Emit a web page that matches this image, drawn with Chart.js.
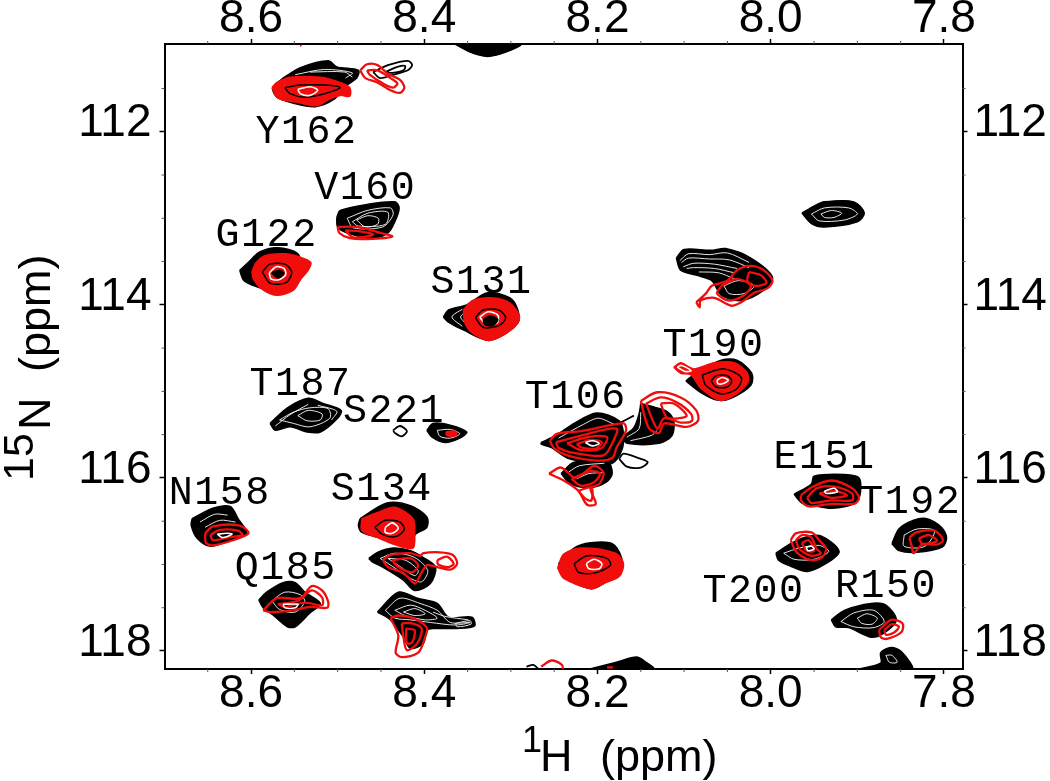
<!DOCTYPE html>
<html>
<head>
<meta charset="utf-8">
<style>
  html, body { margin: 0; padding: 0; background: #fff; }
  canvas { display: block; filter: blur(0.35px); }
</style>
<script src="https://cdn.jsdelivr.net/npm/chart.js@4"></script>
</head>
<body>
<canvas id="hsqc" width="1050" height="781"></canvas>
<script>
// axis ranges and ticks (ppm)
var xRange = [7.7786, 8.6999];
var yRange = [110.986, 118.208];
var xTicks = [8.6, 8.4, 8.2, 8.0, 7.8];
var yTicks = [112, 114, 116, 118];
var xMinorTicks = [8.65, 8.55, 8.5, 8.45, 8.35, 8.3, 8.25, 8.15, 8.1, 8.05, 7.95, 7.9, 7.85];
var yMinorTicks = [111.5, 112.5, 113, 113.5, 114.5, 115, 115.5, 116.5, 117, 117.5];

// residue labels
var labelNames = ['Y162', 'V160', 'G122', 'S131', 'T187', 'S221', 'N158', 'S134', 'Q185', 'T106', 'T190', 'E151', 'T192', 'T200', 'R150'];
var labelX = [8.536, 8.468, 8.582, 8.334, 8.543, 8.435, 8.636, 8.449, 8.560, 8.225, 8.066, 7.938, 7.839, 8.020, 7.867];
var labelY = [112.13, 112.78, 113.32, 113.86, 115.04, 115.35, 116.30, 116.25, 117.17, 115.19, 114.59, 115.89, 116.41, 117.43, 117.38];

// outer contour of the black spectrum, peak by peak
var blackFilled = [
  [[8.563,111.38],[8.543,111.26],[8.511,111.18],[8.501,111.25],[8.476,111.29],[8.478,111.38],[8.489,111.46],[8.505,111.63],[8.526,111.71],[8.551,111.67],[8.570,111.60],[8.575,111.49]],
  [[8.364,110.99],[8.347,111.08],[8.327,111.13],[8.306,111.08],[8.289,110.99]],
  [[8.501,112.99],[8.497,112.91],[8.466,112.84],[8.434,112.81],[8.429,112.88],[8.434,113.04],[8.442,113.17],[8.459,113.23],[8.489,113.17],[8.500,113.10]],
  [[8.613,113.60],[8.603,113.51],[8.590,113.39],[8.569,113.34],[8.546,113.41],[8.543,113.60],[8.551,113.77],[8.578,113.83],[8.599,113.77],[8.609,113.71]],
  [[8.378,114.14],[8.372,114.06],[8.351,114.00],[8.327,113.86],[8.301,113.92],[8.292,114.06],[8.292,114.21],[8.324,114.41],[8.355,114.29],[8.372,114.20]],
  [[8.578,115.37],[8.558,115.19],[8.534,115.08],[8.517,115.14],[8.496,115.22],[8.500,115.31],[8.520,115.47],[8.535,115.47],[8.555,115.41],[8.572,115.45]],
  [[8.397,115.45],[8.390,115.37],[8.370,115.39],[8.351,115.47],[8.359,115.54],[8.376,115.59],[8.391,115.53]],
  [[8.668,116.47],[8.644,116.35],[8.624,116.33],[8.615,116.47],[8.605,116.64],[8.624,116.72],[8.647,116.79],[8.662,116.70],[8.669,116.55]],
  [[8.474,116.47],[8.443,116.29],[8.416,116.32],[8.397,116.45],[8.397,116.57],[8.411,116.66],[8.413,116.80],[8.448,116.70],[8.472,116.63],[8.476,116.55]],
  [[8.464,116.93],[8.454,116.86],[8.436,116.81],[8.416,116.84],[8.401,116.92],[8.387,117.03],[8.393,117.22],[8.411,117.30],[8.424,117.18],[8.448,117.03],[8.460,116.97]],
  [[8.454,117.55],[8.430,117.32],[8.408,117.39],[8.385,117.45],[8.372,117.61],[8.345,117.61],[8.342,117.71],[8.362,117.74],[8.390,117.74],[8.397,117.76],[8.401,117.91],[8.416,117.97],[8.424,117.84],[8.439,117.64]],
  [[8.591,117.41],[8.582,117.32],[8.563,117.21],[8.549,117.21],[8.538,117.32],[8.520,117.45],[8.532,117.56],[8.549,117.72],[8.558,117.72],[8.575,117.58],[8.586,117.50]],
  [[8.109,113.46],[8.100,113.36],[8.069,113.37],[8.052,113.35],[8.023,113.46],[7.998,113.68],[8.008,113.83],[8.034,113.95],[8.057,113.89],[8.068,113.72],[8.085,113.66],[8.104,113.60]],
  [[7.964,112.94],[7.950,112.86],[7.938,112.81],[7.904,112.81],[7.892,112.94],[7.900,113.04],[7.938,113.10],[7.953,113.06]],
  [[8.098,114.88],[8.085,114.78],[8.057,114.64],[8.039,114.64],[8.022,114.79],[8.023,114.93],[8.046,115.08],[8.062,115.10],[8.081,115.01]],
  [[8.265,115.59],[8.248,115.51],[8.227,115.37],[8.201,115.25],[8.175,115.34],[8.170,115.49],[8.172,115.68],[8.183,115.83],[8.204,115.83],[8.235,115.77],[8.253,115.65],[8.265,115.61]],
  [[8.150,115.14],[8.135,115.18],[8.120,115.23],[8.112,115.34],[8.114,115.51],[8.129,115.60],[8.166,115.60],[8.170,115.53],[8.158,115.42],[8.152,115.26]],
  [[8.242,115.95],[8.227,115.82],[8.189,115.80],[8.183,115.95],[8.190,116.05],[8.207,116.11],[8.231,116.07]],
  [[7.973,116.19],[7.953,116.07],[7.950,115.98],[7.915,115.96],[7.898,116.00],[7.897,116.20],[7.904,116.30],[7.930,116.35],[7.950,116.32],[7.964,116.29]],
  [[7.860,116.76],[7.852,116.59],[7.835,116.49],[7.821,116.47],[7.803,116.57],[7.797,116.69],[7.802,116.80],[7.832,116.86],[7.852,116.84]],
  [[7.994,116.87],[7.977,116.76],[7.962,116.69],[7.942,116.67],[7.921,116.85],[7.938,117.00],[7.958,117.08],[7.977,117.02],[7.991,116.95]],
  [[8.245,116.99],[8.227,116.81],[8.208,116.75],[8.183,116.76],[8.172,116.93],[8.173,117.07],[8.193,117.22],[8.208,117.28],[8.235,117.16]],
  [[7.930,117.64],[7.915,117.53],[7.884,117.45],[7.867,117.47],[7.855,117.64],[7.869,117.79],[7.884,117.84],[7.910,117.73],[7.925,117.72]],
  [[7.900,118.21],[7.873,118.14],[7.873,118.02],[7.861,117.96],[7.849,118.01],[7.837,118.21]],
  [[8.210,118.21],[8.178,118.13],[8.155,118.07],[8.144,118.13],[8.135,118.21]]
];

// single black contour lines that stand free of the filled peaks
var blackLines = [
  [[8.459,111.31],[8.442,111.23],[8.419,111.18],[8.414,111.23],[8.419,111.29],[8.436,111.34],[8.451,111.38],[8.459,111.31]],
  [[8.445,111.31],[8.431,111.25],[8.422,111.24],[8.424,111.29],[8.437,111.32],[8.445,111.31]],
  [[8.436,115.45],[8.428,115.40],[8.420,115.46],[8.426,115.52],[8.434,115.48],[8.436,115.45]],
  [[8.175,115.37],[8.158,115.28]],
  [[8.175,115.78],[8.170,115.72],[8.150,115.78],[8.142,115.82],[8.150,115.88],[8.166,115.87],[8.175,115.78]],
  [[8.282,118.18],[8.274,118.16],[8.268,118.21]]
];

// gaps between neighbouring black contours
var whiteGaps = [
  [[8.549,111.34],[8.515,111.28],[8.483,111.32],[8.491,111.38]],
  [[8.532,111.31],[8.492,111.31],[8.483,111.37]],
  [[8.489,113.00],[8.466,112.91],[8.439,112.88],[8.436,112.96],[8.448,113.10],[8.482,113.11],[8.489,113.00]],
  [[8.483,113.04],[8.465,112.94],[8.442,112.93],[8.445,113.07],[8.476,113.09],[8.483,113.04]],
  [[8.478,113.02],[8.465,112.97],[8.453,113.00],[8.454,113.07],[8.468,113.10],[8.478,113.02]],
  [[8.356,114.05],[8.368,114.14],[8.356,114.25]],
  [[8.347,114.05],[8.358,114.14],[8.347,114.26]],
  [[8.567,115.33],[8.551,115.24],[8.532,115.19],[8.511,115.20],[8.509,115.31],[8.532,115.41],[8.551,115.37],[8.567,115.33]],
  [[8.546,115.28],[8.534,115.22],[8.518,115.26],[8.520,115.33],[8.535,115.34],[8.546,115.28]],
  [[8.572,115.40],[8.555,115.27],[8.534,115.15]],
  [[8.523,115.16],[8.501,115.23],[8.507,115.33]],
  [[8.385,115.45],[8.370,115.44],[8.359,115.49],[8.370,115.54],[8.382,115.52],[8.385,115.45]],
  [[8.659,116.51],[8.642,116.42],[8.627,116.43]],
  [[8.653,116.57],[8.636,116.49],[8.618,116.51]],
  [[8.451,116.93],[8.434,116.87],[8.411,116.92],[8.396,117.07],[8.403,117.20],[8.416,117.16],[8.437,117.02],[8.451,116.93]],
  [[8.442,116.93],[8.422,116.95],[8.407,117.07],[8.411,117.13],[8.430,117.01],[8.442,116.93]],
  [[8.445,117.53],[8.428,117.39],[8.405,117.45],[8.385,117.53],[8.370,117.67],[8.347,117.67],[8.364,117.70],[8.393,117.67],[8.416,117.64],[8.434,117.62],[8.445,117.53]],
  [[8.434,117.53],[8.416,117.47],[8.399,117.53],[8.385,117.62],[8.399,117.64],[8.422,117.59],[8.434,117.53]],
  [[8.424,117.55],[8.411,117.51],[8.399,117.57],[8.411,117.59],[8.424,117.55]],
  [[8.364,117.68],[8.347,117.65],[8.346,117.69],[8.362,117.72],[8.364,117.68]],
  [[8.390,117.55],[8.376,117.60],[8.349,117.64]],
  [[8.576,117.42],[8.561,117.32],[8.543,117.35],[8.538,117.43],[8.549,117.55],[8.567,117.52],[8.576,117.42]],
  [[8.105,113.49],[8.095,113.41],[8.071,113.42],[8.050,113.40],[8.025,113.51]],
  [[8.103,113.51],[8.095,113.46],[8.071,113.47],[8.048,113.48],[8.025,113.57]],
  [[8.101,113.56],[8.089,113.52],[8.065,113.53],[8.039,113.58]],
  [[8.097,113.58],[8.089,113.57],[8.065,113.58],[8.042,113.63]],
  [[8.083,113.62],[8.060,113.63],[8.042,113.70]],
  [[8.054,113.78],[8.037,113.72],[8.019,113.78],[8.031,113.87],[8.048,113.87],[8.054,113.78]],
  [[7.953,112.95],[7.938,112.88],[7.910,112.88],[7.900,112.95],[7.915,113.02],[7.944,113.03],[7.953,112.95]],
  [[7.942,112.95],[7.930,112.91],[7.918,112.94],[7.927,112.99],[7.938,112.99],[7.942,112.95]],
  [[8.245,115.54],[8.216,115.38],[8.199,115.31],[8.181,115.38]],
  [[8.166,115.53],[8.152,115.43],[8.150,115.24]],
  [[8.162,115.57],[8.138,115.51],[8.131,115.45]],
  [[8.233,115.93],[8.221,115.86],[8.192,115.83]],
  [[8.224,116.01],[8.210,115.95],[8.193,115.94]],
  [[7.846,116.66],[7.831,116.59],[7.811,116.61],[7.822,116.79],[7.846,116.79],[7.846,116.66]],
  [[7.985,116.87],[7.967,116.81],[7.944,116.78],[7.933,116.85],[7.950,116.94],[7.973,116.94],[7.985,116.87]],
  [[7.919,117.66],[7.904,117.56],[7.881,117.53],[7.869,117.66],[7.881,117.73],[7.904,117.72],[7.919,117.66]],
  [[7.900,117.62],[7.889,117.57],[7.877,117.62],[7.883,117.69],[7.895,117.68],[7.900,117.62]],
  [[7.867,118.05],[7.860,118.05],[7.854,118.13],[7.863,118.13],[7.867,118.05]]
];

// red spectrum: peaks whose contours run together
var redFilled = [
  [[8.576,111.49],[8.570,111.43],[8.555,111.37],[8.520,111.37],[8.497,111.43],[8.486,111.49],[8.486,111.59],[8.497,111.58],[8.511,111.63],[8.524,111.70],[8.547,111.66],[8.569,111.61]],
  [[8.599,113.62],[8.594,113.51],[8.583,113.43],[8.561,113.41],[8.543,113.45],[8.531,113.51],[8.534,113.60],[8.543,113.71],[8.551,113.83],[8.570,113.89],[8.587,113.82],[8.597,113.71]],
  [[8.355,114.06],[8.344,113.95],[8.320,113.92],[8.301,113.98],[8.290,114.14],[8.297,114.27],[8.324,114.41],[8.344,114.33],[8.353,114.21]],
  [[8.375,115.47],[8.364,115.46],[8.363,115.51],[8.374,115.51]],
  [[8.472,116.47],[8.454,116.40],[8.434,116.34],[8.413,116.47],[8.411,116.64],[8.413,116.81],[8.431,116.78],[8.454,116.69],[8.472,116.61]],
  [[8.112,114.72],[8.104,114.67],[8.089,114.74],[8.065,114.67],[8.042,114.67],[8.027,114.79],[8.027,114.91],[8.046,115.07],[8.060,115.10],[8.081,114.96],[8.092,114.81],[8.104,114.79]],
  [[8.246,117.04],[8.239,116.88],[8.219,116.81],[8.179,116.87],[8.170,116.99],[8.175,117.14],[8.193,117.22],[8.207,117.28],[8.239,117.16]]
];

// red spectrum: separate contour lines
var redLines = [
  [[8.474,111.29],[8.466,111.22],[8.454,111.23],[8.442,111.33],[8.428,111.40],[8.423,111.49],[8.428,111.55],[8.439,111.52],[8.454,111.43],[8.468,111.38],[8.474,111.29]],
  [[8.466,111.29],[8.454,111.29],[8.439,111.38],[8.431,111.44],[8.436,111.49],[8.448,111.44],[8.463,111.34],[8.466,111.29]],
  [[8.500,113.10],[8.478,113.10],[8.454,113.16],[8.437,113.21],[8.466,113.24],[8.486,113.23],[8.498,113.17],[8.500,113.10]],
  [[8.491,113.14],[8.474,113.15],[8.459,113.19],[8.482,113.22],[8.491,113.14]],
  [[8.653,116.64],[8.644,116.56],[8.613,116.55],[8.603,116.64],[8.621,116.72],[8.644,116.78],[8.652,116.75],[8.653,116.64]],
  [[8.647,116.66],[8.636,116.60],[8.615,116.61],[8.610,116.66],[8.628,116.69],[8.644,116.72],[8.647,116.66]],
  [[8.448,116.95],[8.439,116.89],[8.416,116.87],[8.405,116.90],[8.401,116.87],[8.382,116.86],[8.367,116.89],[8.362,116.99],[8.370,117.06],[8.385,117.03],[8.397,117.01],[8.405,117.13],[8.411,117.22],[8.424,117.10],[8.442,117.03],[8.448,116.95]],
  [[8.437,116.95],[8.416,116.93],[8.407,117.01],[8.414,117.09],[8.430,117.03],[8.437,116.95]],
  [[8.385,116.95],[8.374,116.91],[8.366,116.99],[8.372,117.03],[8.384,117.00],[8.385,116.95]],
  [[8.439,117.62],[8.431,117.59],[8.413,117.62],[8.397,117.73],[8.399,117.84],[8.407,118.02],[8.426,118.07],[8.433,118.02],[8.430,117.82],[8.439,117.62]],
  [[8.426,117.68],[8.414,117.68],[8.403,117.74],[8.408,117.91],[8.420,117.99],[8.424,117.84],[8.426,117.68]],
  [[8.421,117.74],[8.411,117.76],[8.414,117.90],[8.420,117.91],[8.421,117.74]],
  [[8.586,117.53],[8.570,117.39],[8.543,117.39],[8.530,117.25],[8.518,117.30],[8.511,117.43],[8.512,117.50],[8.532,117.49],[8.551,117.53],[8.578,117.55],[8.586,117.53]],
  [[8.569,117.46],[8.546,117.42],[8.530,117.30],[8.518,117.38],[8.518,117.47],[8.538,117.44],[8.561,117.49],[8.569,117.46]],
  [[8.086,113.97],[8.075,113.87],[8.068,113.78],[8.050,113.72],[8.039,113.60],[8.023,113.55],[8.008,113.60],[7.998,113.72],[8.004,113.81],[8.019,113.86],[8.034,113.97],[8.046,114.01],[8.065,113.92],[8.081,113.95],[8.082,114.03],[8.086,113.97]],
  [[8.057,113.78],[8.039,113.70],[8.023,113.78],[8.031,113.89],[8.048,113.95],[8.062,113.87],[8.057,113.78]],
  [[8.025,113.62],[8.011,113.66],[8.005,113.75],[8.019,113.78],[8.027,113.72],[8.025,113.62]],
  [[8.255,115.57],[8.247,115.49],[8.219,115.46],[8.170,115.37],[8.167,115.45],[8.178,115.65],[8.183,115.77],[8.202,115.80],[8.235,115.74],[8.250,115.66],[8.255,115.57]],
  [[8.248,115.59],[8.219,115.51],[8.178,115.43],[8.183,115.60],[8.193,115.74],[8.227,115.71],[8.245,115.65],[8.248,115.59]],
  [[8.235,115.60],[8.212,115.53],[8.189,115.53],[8.196,115.66],[8.219,115.68],[8.235,115.60]],
  [[8.224,115.61],[8.208,115.56],[8.195,115.59],[8.202,115.66],[8.218,115.65],[8.224,115.61]],
  [[8.150,115.11],[8.131,115.01],[8.104,115.07],[8.086,115.22],[8.084,115.34],[8.097,115.41],[8.123,115.37],[8.129,115.48],[8.141,115.42],[8.150,115.11]],
  [[8.144,115.14],[8.127,115.07],[8.108,115.13],[8.092,115.26],[8.091,115.34],[8.104,115.36],[8.123,115.31],[8.131,115.43],[8.144,115.14]],
  [[8.127,115.14],[8.112,115.14],[8.097,115.28],[8.106,115.31],[8.120,115.30],[8.127,115.14]],
  [[8.256,115.95],[8.242,115.88],[8.225,116.00],[8.204,115.86],[8.193,115.94],[8.198,116.07],[8.208,116.12],[8.202,116.30],[8.212,116.31],[8.222,116.15],[8.239,116.03],[8.256,115.95]],
  [[8.230,116.01],[8.207,115.92],[8.197,115.95],[8.204,116.05],[8.219,116.09],[8.230,116.01]],
  [[8.222,116.15],[8.207,116.11],[8.207,116.26],[8.214,116.24],[8.222,116.15]],
  [[7.965,116.20],[7.953,116.11],[7.930,116.03],[7.906,116.12],[7.898,116.23],[7.904,116.30],[7.930,116.30],[7.956,116.33],[7.965,116.26],[7.965,116.20]],
  [[7.958,116.23],[7.947,116.12],[7.927,116.10],[7.906,116.18],[7.906,116.26],[7.930,116.26],[7.953,116.29],[7.958,116.23]],
  [[7.944,116.18],[7.927,116.15],[7.912,116.20],[7.930,116.23],[7.944,116.18]],
  [[7.840,116.69],[7.832,116.63],[7.811,116.61],[7.801,116.72],[7.808,116.77],[7.825,116.77],[7.835,116.87],[7.837,116.80],[7.840,116.69]],
  [[7.829,116.70],[7.817,116.66],[7.808,116.73],[7.825,116.76],[7.829,116.70]],
  [[7.977,116.72],[7.971,116.64],[7.953,116.63],[7.944,116.72],[7.936,116.82],[7.941,116.92],[7.953,116.95],[7.970,116.86],[7.977,116.72]],
  [[7.971,116.72],[7.964,116.66],[7.953,116.69],[7.947,116.82],[7.942,116.87],[7.953,116.90],[7.967,116.82],[7.971,116.72]],
  [[7.964,116.75],[7.956,116.72],[7.950,116.84],[7.959,116.84],[7.964,116.75]],
  [[7.875,117.76],[7.861,117.64],[7.848,117.68],[7.849,117.78],[7.866,117.86],[7.873,117.84],[7.875,117.76]],
  [[7.869,117.76],[7.860,117.69],[7.852,117.72],[7.858,117.79],[7.867,117.81],[7.869,117.76]],
  [[8.265,118.18],[8.253,118.11],[8.241,118.16],[8.240,118.21]],
  [[8.189,118.19],[8.182,118.19]],
  [[8.543,111.00],[8.542,111.01]]
];

// black contours that show through the red ones
var coreLines = [
  [[8.561,111.49],[8.543,111.46],[8.515,111.46],[8.497,111.49],[8.515,111.56],[8.538,111.60],[8.555,111.56],[8.561,111.49]],
  [[8.587,113.62],[8.578,113.53],[8.561,113.53],[8.553,113.62],[8.559,113.74],[8.578,113.75],[8.587,113.62]],
  [[8.341,114.15],[8.332,114.06],[8.314,114.06],[8.306,114.15],[8.314,114.24],[8.332,114.26],[8.341,114.15]],
  [[8.457,116.57],[8.445,116.49],[8.428,116.51],[8.423,116.60],[8.434,116.68],[8.449,116.65],[8.457,116.57]],
  [[8.079,114.81],[8.054,114.74],[8.034,114.84],[8.039,114.97],[8.057,115.03],[8.075,114.93],[8.079,114.81]],
  [[8.069,114.88],[8.063,114.82],[8.050,114.82],[8.045,114.88],[8.050,114.95],[8.063,114.95],[8.069,114.88]],
  [[8.227,116.99],[8.212,116.90],[8.189,116.93],[8.185,117.01],[8.204,117.10],[8.222,117.09],[8.227,116.99]]
];

// the innermost white centres
var coreWhite = [
  [[8.546,111.51],[8.532,111.48],[8.523,111.52],[8.532,111.58],[8.543,111.56],[8.546,111.51]],
  [[8.579,113.63],[8.571,113.56],[8.562,113.58],[8.560,113.65],[8.568,113.71],[8.577,113.70],[8.579,113.63]],
  [[8.336,114.14],[8.326,114.08],[8.315,114.12],[8.316,114.21],[8.330,114.21],[8.336,114.14]],
  [[8.639,116.65],[8.628,116.64],[8.622,116.65],[8.633,116.69],[8.639,116.65]],
  [[8.445,116.57],[8.437,116.52],[8.430,116.58],[8.437,116.64],[8.445,116.63],[8.445,116.57]],
  [[8.563,117.46],[8.546,117.46],[8.549,117.50],[8.561,117.50],[8.563,117.46]],
  [[8.108,114.72],[8.103,114.70],[8.092,114.76],[8.099,114.77],[8.108,114.72]],
  [[8.062,114.87],[8.056,114.84],[8.049,114.87],[8.055,114.91],[8.061,114.91],[8.062,114.87]],
  [[8.214,115.59],[8.206,115.57],[8.198,115.60],[8.206,115.63],[8.214,115.59]],
  [[7.938,116.15],[7.927,116.12],[7.923,116.16],[7.936,116.18],[7.938,116.15]],
  [[7.959,116.80],[7.953,116.79],[7.950,116.82],[7.957,116.84],[7.959,116.80]],
  [[8.213,116.99],[8.204,116.94],[8.195,116.99],[8.198,117.05],[8.210,117.05],[8.213,116.99]]
];

// solid black spots in the middle of a few peaks
var coreBlack = [
  [[8.576,113.63],[8.567,113.60],[8.562,113.64],[8.569,113.69]],
  [[8.332,114.17],[8.324,114.13],[8.315,114.17],[8.321,114.24],[8.330,114.23]]
];

var red = '#f20d0d';

function lineSet(rings, color, width) {
  return rings.map(function(ring) {
    return { data: ring, showLine: true, pointRadius: 0, borderColor: color, borderWidth: width, tension: 0.3, fill: false };
  });
}

function fillSet(rings, color) {
  return rings.map(function(ring) {
    return { data: ring.concat([ring[0]]), showLine: true, pointRadius: 0, borderColor: color, borderWidth: 1.5, backgroundColor: color, tension: 0.3, fill: 'shape' };
  });
}

// first dataset ends up on top, so the list runs from top layer to bottom
var datasets = [{ data: labelX.map(function(x, i) { return [x, labelY[i]]; }), pointRadius: 0, showLine: false }]
  .concat(fillSet(coreBlack, '#000'))
  .concat(lineSet(coreWhite, '#fff', 1.6))
  .concat(lineSet(coreLines, '#000', 1.5))
  .concat(lineSet(redLines, red, 2.3))
  .concat(fillSet(redFilled, red))
  .concat(lineSet(whiteGaps, '#fff', 0.9))
  .concat(lineSet(blackLines, '#000', 1.8))
  .concat(fillSet(blackFilled, '#000'));

var residueLabels = {
  id: 'residueLabels',
  afterDraw: function(chart) {
    var ctx = chart.ctx;
    ctx.save();
    ctx.fillStyle = '#000';
    ctx.font = '40px "Liberation Mono"';
    ctx.letterSpacing = '1.5px';
    ctx.textAlign = 'center';
    ctx.textBaseline = 'alphabetic';
    labelNames.forEach(function(name, i) {
      ctx.fillText(name, chart.scales.x.getPixelForValue(labelX[i]), chart.scales.y.getPixelForValue(labelY[i]));
    });
    ctx.restore();
  }
};

var minorTicks = {
  id: 'minorTicks',
  afterDraw: function(chart) {
    var ctx = chart.ctx, a = chart.chartArea;
    ctx.save();
    ctx.strokeStyle = '#555';
    ctx.lineWidth = 1;
    ctx.beginPath();
    xMinorTicks.forEach(function(v) {
      var px = chart.scales.x.getPixelForValue(v);
      ctx.moveTo(px, a.top); ctx.lineTo(px, a.top - 3);
      ctx.moveTo(px, a.bottom); ctx.lineTo(px, a.bottom + 3);
    });
    yMinorTicks.forEach(function(v) {
      var py = chart.scales.y.getPixelForValue(v);
      ctx.moveTo(a.left, py); ctx.lineTo(a.left - 3, py);
      ctx.moveTo(a.right, py); ctx.lineTo(a.right + 3, py);
    });
    ctx.stroke();
    ctx.restore();
  }
};

// the isotope numbers sit above the letters, which the axis title option can't do
var axisTitles = {
  id: 'axisTitles',
  afterDraw: function(chart) {
    var ctx = chart.ctx;
    ctx.save();
    ctx.fillStyle = '#000';
    ctx.textBaseline = 'alphabetic';
    ctx.font = '36px "Liberation Sans"';
    ctx.fillText('1', 522, 752);
    ctx.font = '45px "Liberation Sans"';
    ctx.fillText('H', 540, 771);
    ctx.fillText('(ppm)', 600, 771);
    ctx.translate(50, 0);
    ctx.rotate(-Math.PI / 2);
    ctx.fillText('N', -430, 0);
    ctx.fillText('(ppm)', -372, 0);
    ctx.font = '43px "Liberation Sans"';
    ctx.fillText('15', -481, -17);
    ctx.restore();
  }
};

function xAxis(position, size, pad) {
  return {
    type: 'linear', position: position, reverse: true, min: xRange[0], max: xRange[1],
    afterBuildTicks: function(s) { s.ticks = xTicks.map(function(v) { return { value: v }; }); },
    afterFit: function(s) { s.height = size; },
    border: { color: '#000', width: 2 },
    grid: { drawOnChartArea: false, color: '#000', tickLength: 5, tickWidth: 1.5 },
    ticks: {
      color: '#000', padding: pad, maxRotation: 0, autoSkip: false,
      font: { family: 'Liberation Sans', size: 46 },
      callback: function(v) { return v.toFixed(1); }
    }
  };
}

function yAxis(position, size, pad) {
  return {
    type: 'linear', position: position, reverse: true, min: yRange[0], max: yRange[1],
    afterBuildTicks: function(s) { s.ticks = yTicks.map(function(v) { return { value: v }; }); },
    afterFit: function(s) { s.width = size; },
    border: { color: '#000', width: 2 },
    grid: { drawOnChartArea: false, color: '#000', tickLength: 5, tickWidth: 1.5 },
    ticks: {
      color: '#000', padding: pad, autoSkip: false,
      // empty second line lifts the number above its tick, as in the original
      font: { family: 'Liberation Sans', size: 46, lineHeight: '16px' },
      callback: function(v) { return [String(v), '']; }
    }
  };
}

new Chart(document.getElementById('hsqc'), {
  type: 'scatter',
  data: { datasets: datasets },
  plugins: [residueLabels, minorTicks, axisTitles],
  options: {
    responsive: false,
    animation: false,
    devicePixelRatio: 1,
    layout: { padding: 0 },
    plugins: { legend: { display: false }, tooltip: { enabled: false } },
    scales: {
      x: xAxis('bottom', 112, -7),
      xTop: xAxis('top', 44, -8),
      y: yAxis('left', 164.5, 8),
      yRight: yAxis('right', 87.5, 6)
    }
  }
});
</script>
</body>
</html>
